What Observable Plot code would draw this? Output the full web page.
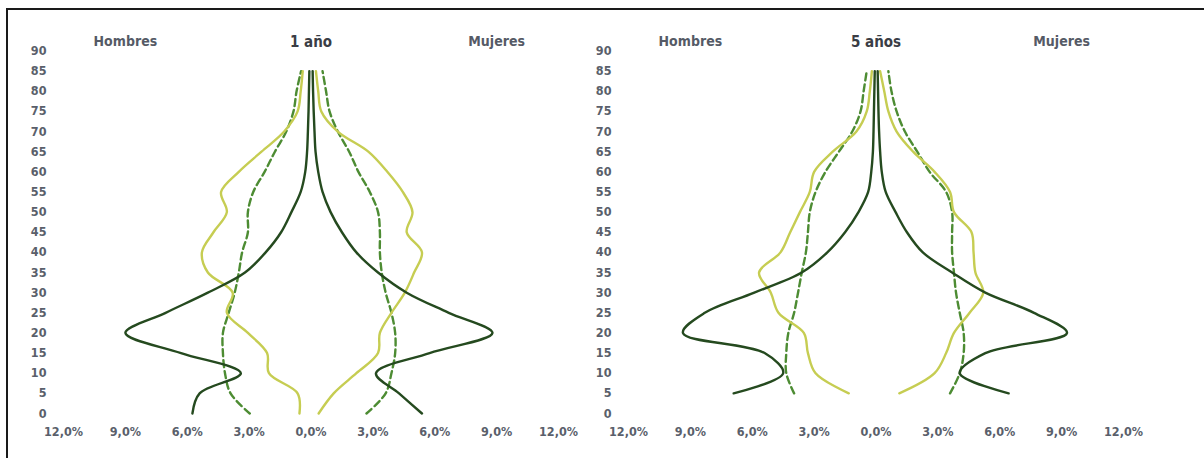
<!DOCTYPE html>
<html>
<head>
<meta charset="utf-8">
<script src="https://cdn.jsdelivr.net/npm/d3@7"></script>
<script src="https://cdn.jsdelivr.net/npm/@observablehq/plot@0.6"></script>
<style>
  html, body { margin: 0; padding: 0; background: #fff; }
  body { width: 1204px; height: 458px; overflow: hidden; position: relative;
         font-family: "DejaVu Sans Condensed", "DejaVu Sans", sans-serif; font-stretch: condensed; }
  #frame { position: absolute; left: 6px; top: 8px; width: 1300px; height: 500px;
           border-top: 2px solid #1a1a1a; border-left: 2px solid #1a1a1a; box-sizing: border-box; }
  #left { position: absolute; left: 0; top: 0; }
  #right { position: absolute; left: 590px; top: 0; }
  svg text { font-stretch: condensed; }
</style>
</head>
<body>
<div id="frame"></div>
<div id="left"></div>
<div id="right"></div>
<script>
// ---- Data (percent of population by age group) ----
const ages1 = [0, 5, 10, 15, 20, 25, 30, 35, 40, 45, 50, 55, 60, 65, 70, 75, 80, 85];
const ages5 = [5, 10, 15, 20, 25, 30, 35, 40, 45, 50, 55, 60, 65, 70, 75, 80, 85];

// 1 año
const darkMen1    = [5.75, 5.4, 3.4, 6.3, 9.0, 7.05, 5.0, 3.2, 2.2, 1.45, 0.95, 0.5, 0.28, 0.19, 0.15, 0.12, 0.1, 0.08];
const darkWomen1  = [5.38, 4.27, 3.15, 5.75, 8.8, 6.68, 4.64, 3.25, 2.2, 1.5, 0.95, 0.56, 0.35, 0.22, 0.17, 0.13, 0.1, 0.08];
const lightMen1   = [0.56, 0.65, 2.04, 2.13, 3.06, 4.08, 3.8, 5.0, 5.29, 4.73, 4.08, 4.36, 3.5, 2.4, 1.3, 0.65, 0.5, 0.4];
const lightWomen1 = [0.37, 1.1, 2.2, 3.25, 3.34, 3.9, 4.55, 5.0, 5.38, 4.64, 4.92, 4.45, 3.7, 2.78, 1.3, 0.5, 0.35, 0.24];
const dashMen1    = [2.97, 3.9, 4.17, 4.27, 4.27, 3.99, 3.7, 3.5, 3.34, 3.06, 3.06, 2.8, 2.25, 1.75, 1.2, 0.85, 0.7, 0.48];
const dashWomen1  = [2.69, 3.62, 3.9, 4.08, 4.08, 3.9, 3.62, 3.43, 3.34, 3.34, 3.25, 2.85, 2.3, 1.85, 1.3, 0.9, 0.73, 0.56];

// 5 años
const darkMen5    = [6.9, 4.5, 5.4, 9.36, 8.3, 5.9, 3.6, 2.36, 1.5, 0.85, 0.38, 0.23, 0.15, 0.12, 0.1, 0.08, 0.06];
const darkWomen5  = [6.43, 4.06, 5.3, 9.26, 7.66, 5.3, 3.69, 2.27, 1.5, 0.95, 0.47, 0.28, 0.2, 0.15, 0.12, 0.1, 0.08];
const lightMen5   = [1.32, 2.93, 3.3, 3.5, 4.73, 5.1, 5.67, 4.63, 4.16, 3.69, 3.21, 3.0, 2.1, 0.95, 0.45, 0.3, 0.2];
const lightWomen5 = [1.13, 2.84, 3.4, 3.78, 4.54, 5.2, 4.82, 4.73, 4.63, 3.78, 3.59, 2.84, 1.8, 1.0, 0.6, 0.4, 0.2];
const dashMen5    = [3.97, 4.35, 4.35, 4.25, 3.97, 3.78, 3.6, 3.4, 3.3, 3.21, 2.93, 2.45, 1.8, 1.15, 0.75, 0.6, 0.45];
const dashWomen5  = [3.59, 4.06, 4.25, 4.25, 4.06, 3.88, 3.78, 3.69, 3.69, 3.69, 3.4, 2.6, 2.0, 1.4, 1.0, 0.75, 0.6];

// Axes / labels
const xTicks = [-12, -9, -6, -3, 0, 3, 6, 9, 12];
const yTicks = [0, 5, 10, 15, 20, 25, 30, 35, 40, 45, 50, 55, 60, 65, 70, 75, 80, 85, 90];
const sideLabels = ["Hombres", "Mujeres"];
const panelTitles = ["1 año", "5 años"];

const colors = { dark: "#254a1f", light: "#c6cd52", dash: "#4d8c33" };
const fmt = d => Math.abs(d).toFixed(1).replace(".", ",") + "%";

function series(ages, vals, sign) {
  return ages.map((a, i) => ({ age: a, v: sign * vals[i] }));
}

function panel(opts) {
  const { width, marginLeft, marginRight, ages, title, s } = opts;
  const lineOpts = { x: "v", y: "age", curve: "catmull-rom", strokeWidth: 2.4 };
  const mk = (vals, sign, stroke, dash) =>
    Plot.line(series(ages, vals, sign), { ...lineOpts, stroke, strokeDasharray: dash });
  return Plot.plot({
    width, height: 455,
    marginLeft, marginRight, marginTop: 50.5, marginBottom: 42,
    style: { fontFamily: '"DejaVu Sans Condensed", "DejaVu Sans", sans-serif', fontSize: "12.5px", fontWeight: "bold", color: "#5a5f6b", background: "transparent" },
    x: { domain: [-12, 12], ticks: xTicks, tickFormat: fmt },
    y: { domain: [0, 90], ticks: yTicks },
    marks: [
      Plot.axisX({ ticks: xTicks, tickSize: 0, tickPadding: 14, label: null, tickFormat: fmt }),
      Plot.axisY({ ticks: yTicks, tickSize: 0, tickPadding: 17, label: null }),
      mk(s.dashMen, -1, colors.dash, "7,4"),
      mk(s.dashWomen, 1, colors.dash, "7,4"),
      mk(s.lightMen, -1, colors.light),
      mk(s.lightWomen, 1, colors.light),
      mk(s.darkMen, -1, colors.dark),
      mk(s.darkWomen, 1, colors.dark),
      Plot.text([{ x: -9, t: sideLabels[0] }, { x: 9, t: sideLabels[1] }],
        { x: "x", text: "t", frameAnchor: "top", dy: -15, fontSize: 14, fontWeight: "bold", fill: "#555a66" }),
      Plot.text([{ x: 0, t: title }],
        { x: "x", text: "t", frameAnchor: "top", dy: -15, fontSize: 15, fontWeight: "bold", fill: "#3a3d45" })
    ]
  });
}

document.getElementById("left").append(panel({
  width: 590, marginLeft: 63, marginRight: 32, ages: ages1, title: panelTitles[0],
  s: { darkMen: darkMen1, darkWomen: darkWomen1, lightMen: lightMen1, lightWomen: lightWomen1, dashMen: dashMen1, dashWomen: dashWomen1 }
}));
document.getElementById("right").append(panel({
  width: 614, marginLeft: 38, marginRight: 81, ages: ages5, title: panelTitles[1],
  s: { darkMen: darkMen5, darkWomen: darkWomen5, lightMen: lightMen5, lightWomen: lightWomen5, dashMen: dashMen5, dashWomen: dashWomen5 }
}));
</script>
</body>
</html>
